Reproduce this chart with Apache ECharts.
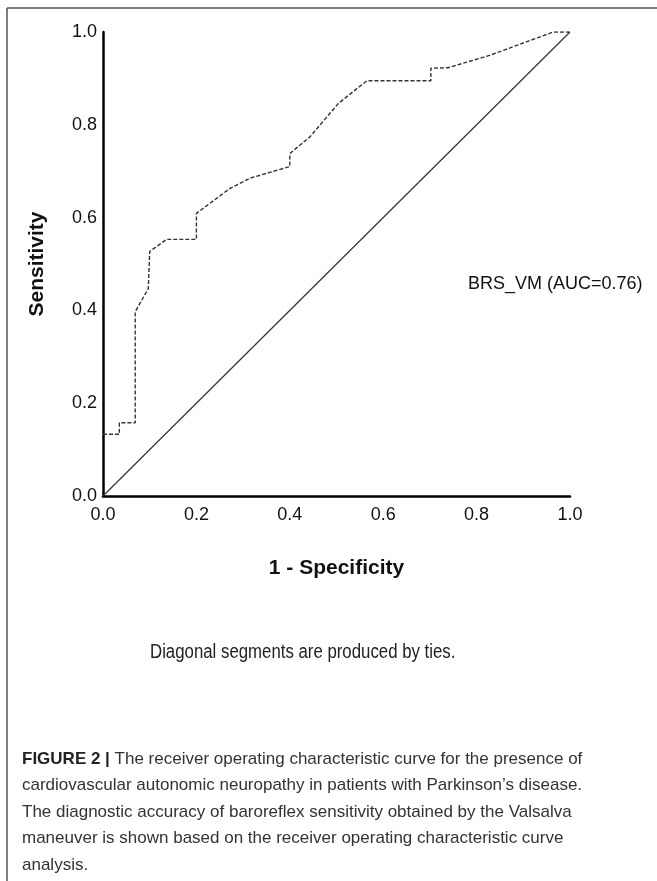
<!DOCTYPE html>
<html><head><meta charset="utf-8">
<script src="https://cdn.jsdelivr.net/npm/echarts@6/dist/echarts.min.js"></script>
<style>html,body{margin:0;padding:0;background:#fff}#c{width:657px;height:881px}</style>
</head><body><div id="c"></div>
<script>
// ROC curve points: [1 - specificity, sensitivity]
const rocX = [0, 0.035, 0.035, 0.069, 0.069, 0.097, 0.100, 0.136, 0.200, 0.200, 0.272, 0.315, 0.400, 0.400, 0.443, 0.504, 0.565, 0.702, 0.702, 0.739, 0.829, 0.964, 1.0];
const rocY = [0.133, 0.133, 0.158, 0.158, 0.397, 0.447, 0.527, 0.553, 0.553, 0.609, 0.663, 0.685, 0.710, 0.738, 0.774, 0.846, 0.895, 0.895, 0.922, 0.923, 0.950, 1.0, 1.0];
const refX = [0, 1];
const refY = [0, 1];
const tickLabels = ['0.0', '0.2', '0.4', '0.6', '0.8', '1.0'];
const curveLabel = 'BRS_VM (AUC=0.76)';
const footnote = 'Diagonal segments are produced by ties.';
const captionLines = [
  'The receiver operating characteristic curve for the presence of',
  'cardiovascular autonomic neuropathy in patients with Parkinson\u2019s disease.',
  'The diagnostic accuracy of baroreflex sensitivity obtained by the Valsalva',
  'maneuver is shown based on the receiver operating characteristic curve',
  'analysis.'
];

const chart = echarts.init(document.getElementById('c'));
const capFont = 'Liberation Sans, Arial, sans-serif';
const fontTick = {fontFamily: capFont, fontSize: 18, color: '#111'};
const graphics = [
  {type: 'line', shape: {x1: 7, y1: 8, x2: 657, y2: 8}, style: {stroke: '#555', lineWidth: 1.5}},
  {type: 'line', shape: {x1: 7, y1: 8, x2: 7, y2: 881}, style: {stroke: '#555', lineWidth: 1.5}},
  {type: 'text', x: 468, y: 284, style: {text: curveLabel, font: '18px ' + capFont, fill: '#111', verticalAlign: 'middle'}},
  {type: 'text', x: 150, y: 652, scaleX: 0.84, originX: 0, originY: 0,
    style: {text: footnote, font: '20px ' + capFont, fill: '#222', verticalAlign: 'middle'}},
  {type: 'text', x: 22, y: 759, style: {
    text: '{b|FIGURE 2 |} ' + captionLines[0], rich: {b: {font: 'bold 17px ' + capFont, fill: '#222'}},
    font: '17px ' + capFont, fill: '#333', verticalAlign: 'middle'}}
];
for (let i = 1; i < captionLines.length; i++) {
  graphics.push({type: 'text', x: 22, y: 759 + i * 26.5, style: {text: captionLines[i], font: '17px ' + capFont, fill: '#333', verticalAlign: 'middle'}});
}
chart.setOption({
  animation: false,
  grid: {left: 103, top: 32, width: 467, height: 464, containLabel: false},
  xAxis: {
    type: 'value', min: 0, max: 1, interval: 0.2,
    name: '1 - Specificity', nameLocation: 'middle', nameGap: 62,
    nameTextStyle: {fontFamily: capFont, fontSize: 21, fontWeight: 'bold', color: '#111'},
    axisLine: {lineStyle: {color: '#000', width: 2.5}},
    axisTick: {show: false}, splitLine: {show: false},
    axisLabel: Object.assign({margin: 10, formatter: (v) => tickLabels[Math.round(v * 5)]}, fontTick)
  },
  yAxis: {
    type: 'value', min: 0, max: 1, interval: 0.2,
    name: 'Sensitivity', nameLocation: 'middle', nameGap: 55, nameRotate: 90,
    nameTextStyle: {fontFamily: capFont, fontSize: 21, fontWeight: 'bold', color: '#111'},
    axisLine: {lineStyle: {color: '#000', width: 2.5}},
    axisTick: {show: false}, splitLine: {show: false},
    axisLabel: Object.assign({margin: 6, formatter: (v) => tickLabels[Math.round(v * 5)]}, fontTick)
  },
  series: [
    {type: 'line', data: refX.map((x, i) => [x, refY[i]]), symbol: 'none', lineStyle: {color: '#333', width: 1.2}},
    {type: 'line', data: rocX.map((x, i) => [x, rocY[i]]), symbol: 'none', lineStyle: {color: '#333', width: 1.4, type: [4, 2]}}
  ],
  graphic: graphics
});
</script></body></html>
